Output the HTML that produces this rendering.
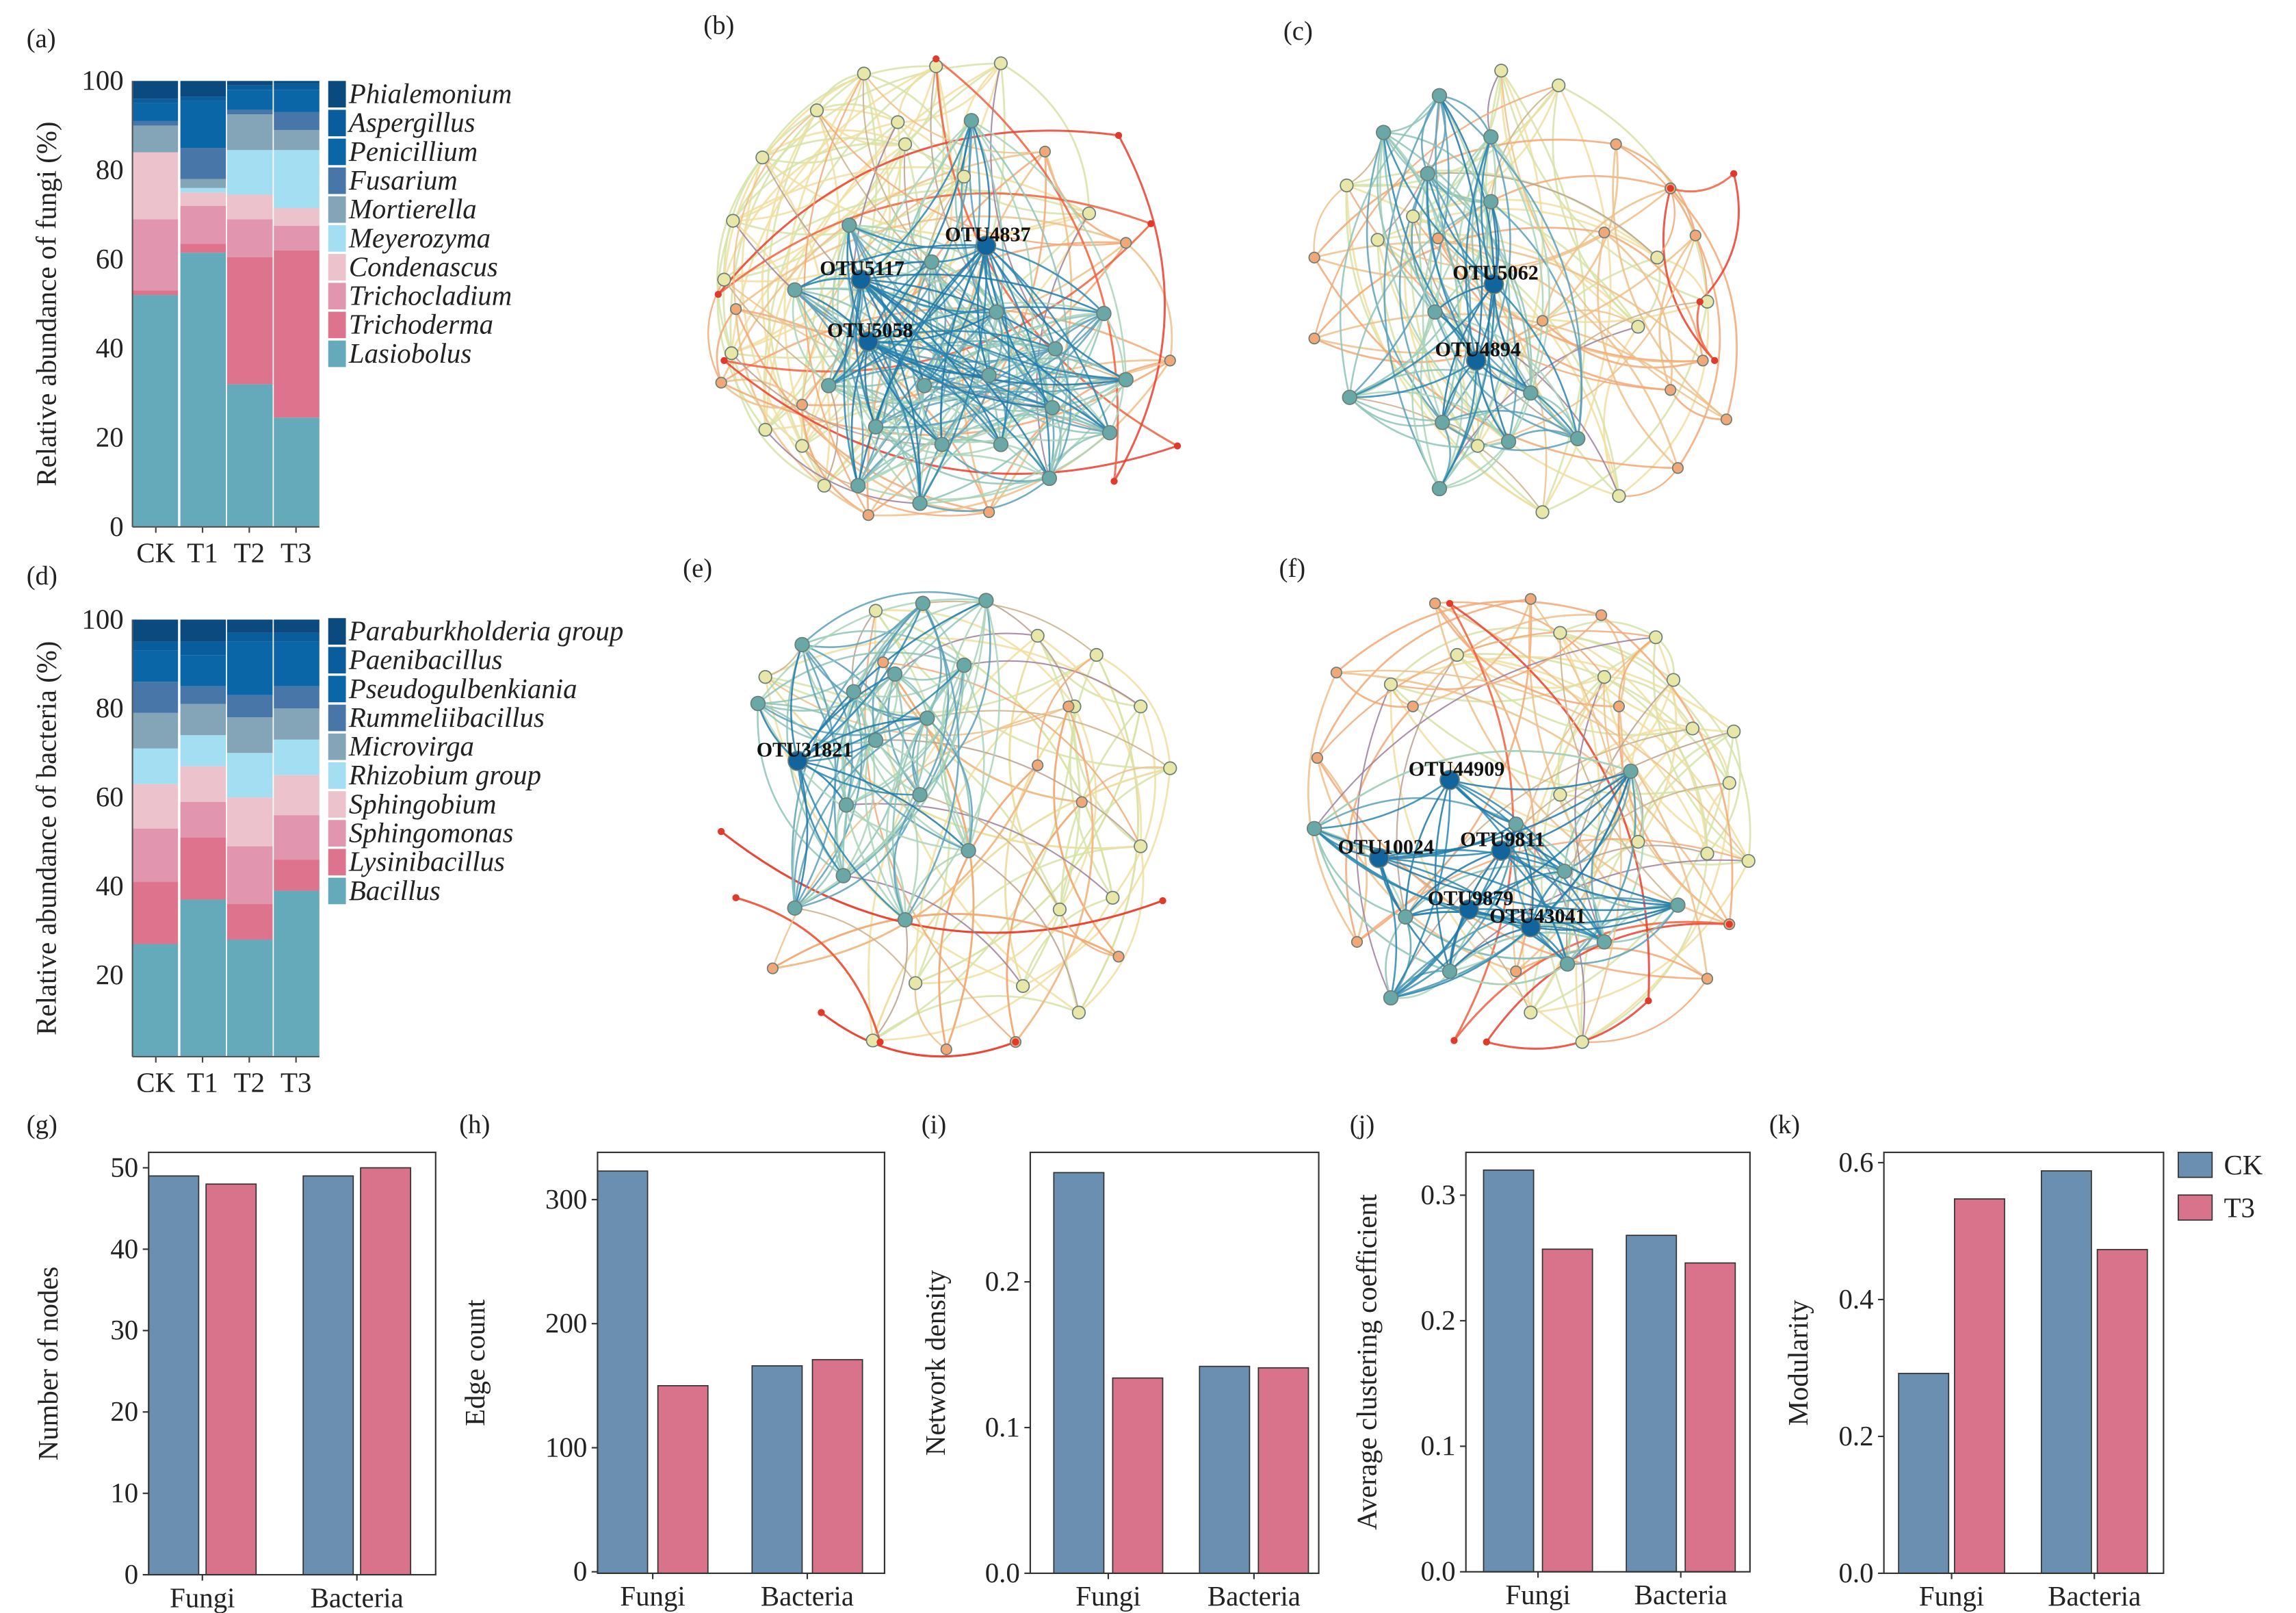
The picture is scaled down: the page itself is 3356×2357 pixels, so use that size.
<!DOCTYPE html>
<html><head><meta charset="utf-8">
<style>
html,body{margin:0;padding:0;background:#fff;}
svg{display:block;font-family:"Liberation Serif",serif;}
text{font-family:"Liberation Serif",serif;}
</style></head>
<body>
<svg id="fig" xmlns="http://www.w3.org/2000/svg" width="3356" height="2357" viewBox="0 0 1560 1096" preserveAspectRatio="none" font-family="Liberation Serif, serif">
<rect width="1560" height="1096" fill="#fff"/>
<g id="labels" font-size="18" fill="#222">
<text x="18" y="32">(a)</text>
<text x="478" y="23">(b)</text>
<text x="872" y="27">(c)</text>
<text x="18" y="397">(d)</text>
<text x="464" y="392">(e)</text>
<text x="869" y="392">(f)</text>
<text x="18" y="770">(g)</text>
<text x="312" y="770">(h)</text>
<text x="626" y="770">(i)</text>
<text x="917" y="770">(j)</text>
<text x="1202" y="770">(k)</text>
</g>
</svg>
<script>
const NS='http://www.w3.org/2000/svg';
const svg=document.getElementById('fig');
function mk(tag,attrs,parent){const e=document.createElementNS(NS,tag);for(const k in attrs)e.setAttribute(k,attrs[k]);(parent||svg).appendChild(e);return e;}

// ---------- stacked bar data ----------
const stackCats=['CK','T1','T2','T3'];
const fungiTaxa=['Lasiobolus','Trichoderma','Trichocladium','Condenascus','Meyerozyma','Mortierella','Fusarium','Penicillium','Aspergillus','Phialemonium'];
const fungiCK=[52,1,16,15,0,6,1,4,1,4];
const fungiT1=[61.5,2,8.5,3,1,2,7,10.5,1,3.5];
const fungiT2=[32,28.5,8.5,5.5,10,8,1,4.5,1,1];
const fungiT3=[24.5,37.5,5.5,4,13,4.5,4,5,1.5,0.5];
const bactTaxa=['Bacillus','Lysinibacillus','Sphingomonas','Sphingobium','Rhizobium group','Microvirga','Rummeliibacillus','Pseudogulbenkiania','Paenibacillus','Paraburkholderia group'];
const bactCK=[27,14,12,10,8,8,7,7,2,5];
const bactT1=[37,14,8,8,7,7,4,7,3,5];
const bactT2=[28,8,13,11,10,8,5,12,2,3];
const bactT3=[39,7,10,9,8,7,5,10,2,3];
const stackColors=['#64aabb','#dd738d','#e195ae','#ecc2cc','#a3def3','#84a4b7','#4976a8','#0b66a8','#0a5d9c','#0a4a7e'];
const fungiTicks=[0,20,40,60,80,100];
const bactTicks=[20,40,60,80,100];

function stackPanel(name,series,taxa,ticks,left,right,top,zeroY,bottom,title,legY){
  const g=mk('g',{});
  
  
  const yS=v=>zeroY-(zeroY-top)*v/100;
  const bw=(right-left)/series.length;
  series.forEach((vals,i)=>{
    let cum=0;
    vals.forEach((v,k)=>{
      const y1=yS(cum+v),y0=Math.min(yS(cum),bottom);
      cum+=v;
      if(y0-y1<=0)return;
      const r=mk('rect',{x:left+i*bw+(i?0.8:0),y:y1,width:bw-0.8,height:y0-y1,fill:stackColors[k]},g);
      
      
    });
    const t=mk('text',{x:left+i*bw+bw/2,y:bottom+24,'font-size':19,'text-anchor':'middle',fill:'#222'},g);
    t.textContent=stackCats[i];
    
    
    mk('line',{x1:left+i*bw+bw/2,x2:left+i*bw+bw/2,y1:bottom,y2:bottom+4,stroke:'#444'},g);
  });
  mk('line',{x1:left,x2:left,y1:top,y2:bottom,stroke:'#555','stroke-width':1},g);
  mk('line',{x1:left,x2:right,y1:bottom,y2:bottom,stroke:'#555','stroke-width':1},g);
  ticks.forEach(v=>{
    const t=mk('text',{x:left-6,y:yS(v)+6,'font-size':19,'text-anchor':'end',fill:'#222'},g);
    t.textContent=v;
    
    
  });
  const yt=mk('text',{transform:`translate(38,${(top+bottom)/2}) rotate(-90)`,'font-size':19,'text-anchor':'middle',fill:'#222'},g);
  yt.textContent=title;
  
  
  for(let k=taxa.length-1;k>=0;k--){
    const row=taxa.length-1-k;
    const y=legY+row*19.6;
    const sq=mk('rect',{x:223,y:y-9,width:12,height:18,fill:stackColors[k]},g);
    
    
    const t=mk('text',{x:237,y:y+6,'font-size':19,fill:'#222','font-style':'italic'},g);
    t.textContent=taxa[k];
    
    
  }
}
stackPanel('fungi-stacked-bar',[fungiCK,fungiT1,fungiT2,fungiT3],fungiTaxa,fungiTicks,90,217,55,358,358,'Relative abundance of fungi (%)',64);
stackPanel('bacteria-stacked-bar',[bactCK,bactT1,bactT2,bactT3],bactTaxa,bactTicks,90,217,421,723,718,'Relative abundance of bacteria (%)',429);

// ---------- bottom bar charts ----------
const groupCats=['Fungi','Bacteria'];
const nodesCK=[49,49], nodesT3=[48,50];
const edgesCK=[323,166], edgesT3=[150,171];
const densCK=[0.275,0.142], densT3=[0.134,0.141];
const clustCK=[0.32,0.268], clustT3=[0.257,0.246];
const modCK=[0.292,0.588], modT3=[0.547,0.473];
const ticksNodes=[0,10,20,30,40,50], ticksEdges=[0,100,200,300], ticksDens=[0.0,0.1,0.2], ticksClust=[0.0,0.1,0.2,0.3], ticksMod=[0.0,0.2,0.4,0.6];
const CKc='#6a8fb0', T3c='#d9738b';

function barPanel(name,ck,t3,ticks,dec,left,right,top,bottom,zeroY,unitY,unitV,pad,gw,step,title,titleX){
  const g=mk('g',{});
  
  
  const yS=v=>zeroY-(unitY*v/unitV);
  const bw=34;
  [ck,t3].forEach((arr,si)=>{
    arr.forEach((v,gi)=>{
      const x=left+pad+gi*gw+si*step;
      const r=mk('rect',{x:x,y:yS(v),width:bw,height:bottom-yS(v),fill:si?T3c:CKc,stroke:'#333','stroke-width':0.8},g);
      
      
    });
  });
  groupCats.forEach((c,gi)=>{
    const cx=left+pad+gi*gw+(step+bw)/2;
    mk('line',{x1:cx,x2:cx,y1:bottom,y2:bottom+4,stroke:'#333'},g);
    const t=mk('text',{x:cx,y:bottom+22,'font-size':19,'text-anchor':'middle',fill:'#222'},g);
    t.textContent=c;
    
    
  });
  mk('rect',{x:left,y:top,width:right-left,height:bottom-top,fill:'none',stroke:'#333','stroke-width':1},g);
  ticks.forEach(v=>{
    mk('line',{x1:left-4,x2:left,y1:yS(v),y2:yS(v),stroke:'#333'},g);
    const t=mk('text',{x:left-7,y:yS(v)+6,'font-size':19,'text-anchor':'end',fill:'#222'},g);
    t.textContent=v.toFixed(dec);
    
    
  });
  const yt=mk('text',{transform:`translate(${titleX},${(top+bottom)/2}) rotate(-90)`,'font-size':19,'text-anchor':'middle',fill:'#222'},g);
  yt.textContent=title;
  
  
}
barPanel('nodes-chart',nodesCK,nodesT3,ticksNodes,0,101,296,783,1070,1070,55.3,10,0,105,39,'Number of nodes',39);
barPanel('edges-chart',edgesCK,edgesT3,ticksEdges,0,406,601,783,1069,1068,84.3,100,0,105,41,'Edge count',329);
barPanel('density-chart',densCK,densT3,ticksDens,1,700,896,783,1069,1069,99,0.1,16,99,40,'Network density',642);
barPanel('clustering-chart',clustCK,clustT3,ticksClust,1,996,1189,783,1068,1068,85.3,0.1,12,97,40,'Average clustering coefficient',935);
barPanel('modularity-chart',modCK,modT3,ticksMod,1,1280,1470,783,1069,1069,46.5,0.1,10,97,38,'Modularity',1228);
(function(){
  const lg=mk('g',{});
  
  
  [['CK',CKc,783],['T3',T3c,812]].forEach(([n,c,y])=>{
    const r=mk('rect',{x:1480,y:y,width:23,height:17,fill:c,stroke:'#333','stroke-width':0.8},lg);
    
    
    const t=mk('text',{x:1511,y:y+15,'font-size':19,fill:'#222'},lg);
    t.textContent=n;
    
    
  });
})();

// ---------- networks ----------
const netB_hubs=[[670,167,'OTU4837'],[585,190,'OTU5117'],[590,232,'OTU5058']];
const netB_teal=[[633,178],[677,212],[717,237],[765,258],[754,294],[715,277],[680,302],[640,302],[625,342],[583,330],[563,262],[595,290],[628,262],[672,255],[713,325],[540,197],[577,153],[660,82],[750,213]];
const netB_yel=[[587,50],[636,45],[680,43],[555,75],[518,107],[498,150],[492,190],[497,240],[520,292],[545,303],[560,330],[610,83],[655,120],[615,98],[740,145]];
const netB_ora=[[710,103],[765,165],[795,245],[672,348],[545,275],[590,350],[500,210],[490,260]];
const netB_red=[[636,40],[760,92],[782,152],[800,303],[757,327],[488,200],[492,245]];

const netC_hubs=[[1015,193,'OTU5062'],[1003,245,'OTU4894']];
const netC_teal=[[940,90],[978,65],[1013,93],[1013,137],[970,118],[975,212],[917,270],[980,287],[978,332],[1040,267],[1072,298],[1025,300]];
const netC_yel=[[915,126],[936,163],[1020,48],[1059,58],[1126,175],[1100,337],[1048,348],[1004,303],[1113,222],[1160,205],[960,147]];
const netC_ora=[[893,175],[893,230],[977,162],[1098,98],[1090,158],[1135,128],[1152,160],[1157,245],[1173,285],[1140,318],[1048,218],[1135,265]];
const netC_red=[[1178,118],[1135,128],[1165,245],[1155,205]];

const netE_hubs=[[542,517,'OTU31821']];
const netE_teal=[[545,438],[580,470],[608,458],[627,410],[670,408],[655,452],[630,488],[595,503],[575,547],[625,540],[658,578],[573,595],[540,617],[615,625],[515,478]];
const netE_yel=[[520,460],[595,415],[705,432],[745,445],[730,480],[775,480],[795,522],[775,575],[756,610],[720,618],[733,688],[695,670],[622,668],[593,707]];
const netE_ora=[[726,480],[705,520],[735,545],[760,650],[643,713],[690,708],[525,658],[600,450]];
const netE_red=[[490,565],[500,610],[558,688],[790,612],[598,708],[690,708]];

const netF_hubs=[[985,530,'OTU44909'],[937,583,'OTU10024'],[1020,578,'OTU9811'],[998,618,'OTU9879'],[1040,630,'OTU43041']];
const netF_teal=[[893,563],[955,623],[945,678],[985,660],[1063,592],[1108,524],[1090,640],[1140,615],[1065,655],[1030,560]];
const netF_yel=[[1125,433],[1150,495],[1178,497],[1188,585],[1175,532],[1113,572],[1090,460],[1060,430],[1137,462],[1075,708],[1040,688],[990,445],[945,465],[1060,540],[1160,580]];
const netF_ora=[[895,515],[908,457],[975,410],[1040,407],[1088,418],[1030,660],[922,640],[1175,628],[1160,665],[960,480],[1100,480]];
const netF_red=[[1010,708],[988,707],[1120,680],[1175,628],[985,410]];

const edgeCols={h:['#1f78a8','#2a86b0'],t:['#5aa0b8','#8ec3b8','#a9d3b8'],y:['#f1dea0','#d6e3a8'],o:['#f3a875','#eec08a'],r:['#e8402f','#ef6040'],x:['#b8a090','#9c7f9c','#c9b08a']};
const nodeCols={h:'#12659c',t:'#6aa8a8',y:'#e9e6aa',o:'#f0a878',r:'#e03a2a'};

function curve(g,a,b,col,w,bend){
  const mx=(a[0]+b[0])/2,my=(a[1]+b[1])/2,dx=b[0]-a[0],dy=b[1]-a[1];
  const cx=mx-dy*bend,cy=my+dx*bend;
  mk('path',{d:`M${a[0]},${a[1]} Q${cx},${cy} ${b[0]},${b[1]}`,fill:'none',stroke:col,'stroke-width':w,'stroke-opacity':0.85},g);
}
function network(name,hubs,teal,yel,ora,red,k){
  const g=mk('g',{});
  
  
  const eg=mk('g',{},g);
  let c=0;
  const within=(arr,cols,kk,w)=>{for(let i=0;i<arr.length;i++)for(let s=1;s<=kk;s++){const j=(i+s*2+1)%arr.length;if(j===i)continue;c++;curve(eg,arr[i],arr[j],cols[c%cols.length],w,(c%2?0.28:-0.28));}};
  within(yel,edgeCols.y,k+1,1.3);
  within(ora,edgeCols.o,k,1.3);
  within(red,edgeCols.r,1,1.4);
  for(let i=0;i<yel.length;i++){const t=teal[i%teal.length];c++;curve(eg,yel[i],t,edgeCols.x[c%3],1,0.22);}
  for(let i=0;i<ora.length;i++){const t=yel[(i*3)%yel.length];c++;curve(eg,ora[i],t,edgeCols.o[c%2],1.1,-0.28);}
  within(teal,edgeCols.t,k+3,1.2);
  hubs.forEach(h=>{teal.forEach((t,i)=>{c++;curve(eg,h,t,edgeCols.h[c%2],1.2,(i%2?0.15:-0.15));});});
  const ng=mk('g',{},g);
  const dot=(p,type,r)=>{const e=mk('circle',{cx:p[0],cy:p[1],r:r,fill:nodeCols[type],stroke:type==='r'?'none':'#6b7f78','stroke-width':0.8},ng);
    
    };
  yel.forEach(p=>dot(p,'y',4.3));
  ora.forEach(p=>dot(p,'o',3.6));
  red.forEach(p=>dot(p,'r',2.4));
  teal.forEach(p=>dot(p,'t',4.8));
  hubs.forEach(p=>{dot(p,'h',6.5);
    const t=mk('text',{x:p[0]-28,y:p[1]-3,'font-size':14,'font-weight':'bold',fill:'#111'},g);
    t.textContent=p[2];
    
    });
}
network('fungi-network-ck',netB_hubs,netB_teal,netB_yel,netB_ora,netB_red,3);
network('fungi-network-t3',netC_hubs,netC_teal,netC_yel,netC_ora,netC_red,2);
network('bacteria-network-ck',netE_hubs,netE_teal,netE_yel,netE_ora,netE_red,2);
network('bacteria-network-t3',netF_hubs,netF_teal,netF_yel,netF_ora,netF_red,2);
</script>
</body></html>
